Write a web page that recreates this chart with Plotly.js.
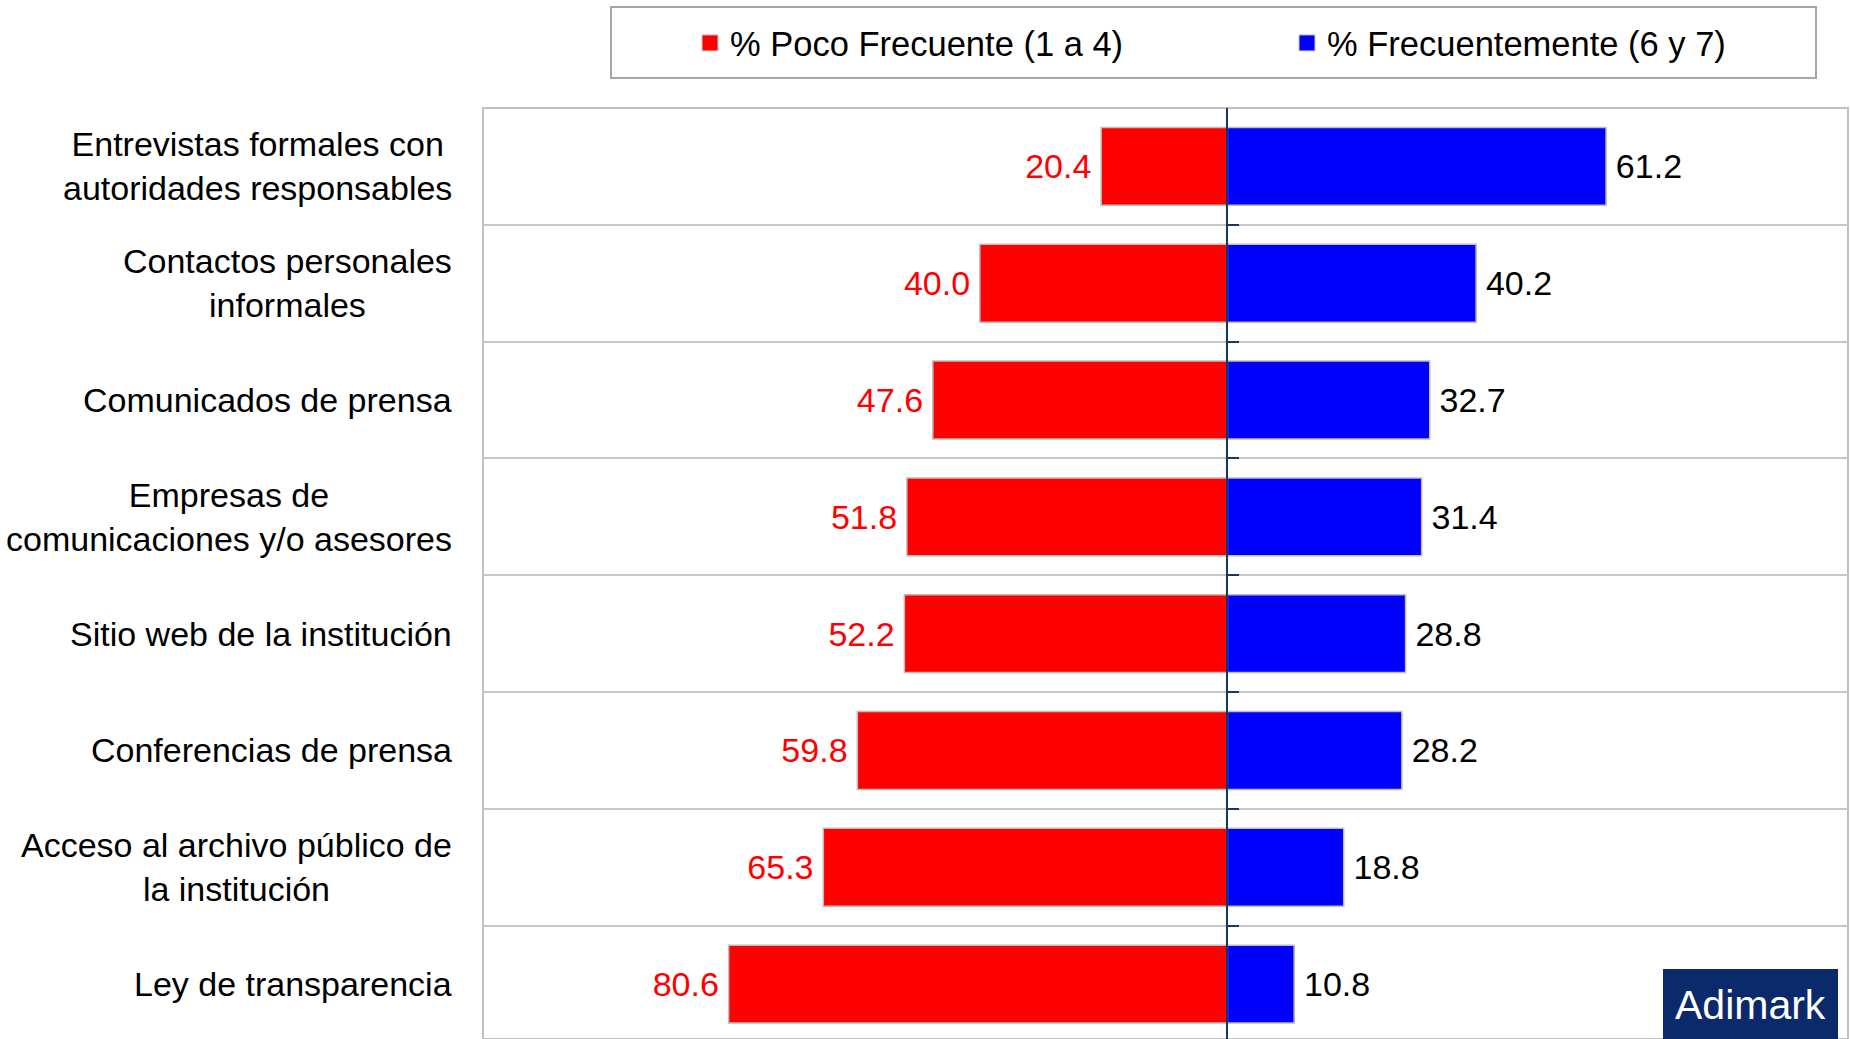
<!DOCTYPE html>
<html>
<head>
<meta charset="utf-8">
<script src="https://cdn.plot.ly/plotly-3.0.1.min.js"></script>
<style>html,body{margin:0;padding:0;background:#fff;}#chart{width:1850px;height:1039px;}</style>
</head>
<body>
<div id="chart"></div>
<script>
const categories = [
  'Entrevistas formales con<br>autoridades responsables',
  'Contactos personales<br>informales',
  'Comunicados de prensa',
  'Empresas de<br>comunicaciones y/o asesores',
  'Sitio web de la institución',
  'Conferencias de prensa',
  'Acceso al archivo público de<br>la institución',
  'Ley de transparencia'
];
const pocoFrecuente = [20.4, 40.0, 47.6, 51.8, 52.2, 59.8, 65.3, 80.6];
const frecuentemente = [61.2, 40.2, 32.7, 31.4, 28.8, 28.2, 18.8, 10.8];
const seriesNames = ['% Poco Frecuente (1 a 4)', '% Frecuentemente (6 y 7)'];
const seriesColors = ['#ff0000', '#0000ff'];

const W = 1850, H = 1039;
const mL = 483, mR = 2, mT = 108, mB = 0;
const pw = W - mL - mR, ph = H - mT - mB;
const xRange = [-120.3, 100.3];
const zeroFrac = (0 - xRange[0]) / (xRange[1] - xRange[0]);
const px2x = p => (p - mL) / pw;
const px2y = p => (H - mB - p) / ph;
const FONT = 'Liberation Sans, Arial, sans-serif';
const GAP = '\u2009';

const traces = [
  {
    type: 'bar', orientation: 'h', name: seriesNames[0], showlegend: false,
    y: categories, x: pocoFrecuente.map(v => -v),
    text: pocoFrecuente.map(v => v.toFixed(1) + GAP),
    textposition: 'outside', constraintext: 'none', cliponaxis: false,
    textfont: {family: FONT, size: 34, color: '#ff0000'},
    marker: {color: seriesColors[0], line: {color: '#bdbdbd', width: 1.5}},
    hoverinfo: 'skip'
  },
  {
    type: 'bar', orientation: 'h', name: seriesNames[1], showlegend: false,
    y: categories, x: frecuentemente,
    text: frecuentemente.map(v => GAP + v.toFixed(1)),
    textposition: 'outside', constraintext: 'none', cliponaxis: false,
    textfont: {family: FONT, size: 34, color: '#000000'},
    marker: {color: seriesColors[1], line: {color: '#bdbdbd', width: 1.5}},
    hoverinfo: 'skip'
  }
].concat(seriesNames.map((n, i) => ({
  type: 'scatter', mode: 'markers', name: n, x: [null], y: [null],
  marker: {symbol: 'square', size: 16, color: seriesColors[i], line: {color: '#c8c8c8', width: 1}},
  hoverinfo: 'skip', showlegend: true
})));

const annotations = categories.map((c, i) => ({
  xref: 'paper', yref: 'y', x: 0, y: i, xanchor: 'right', yanchor: 'middle',
  xshift: -29, text: c, showarrow: false, align: 'center',
  font: {family: FONT, size: 34, color: '#000000'}
}));
annotations.push({
  xref: 'paper', yref: 'paper', x: px2x(1750.5), y: px2y(1005), xanchor: 'center', yanchor: 'middle',
  text: 'Adimark', showarrow: false, font: {family: FONT, size: 41, color: '#ffffff'}
});

const layout = {
  width: W, height: H,
  margin: {l: mL, r: mR, t: mT, b: mB, pad: 0},
  paper_bgcolor: '#ffffff', plot_bgcolor: '#ffffff',
  barmode: 'relative', bargap: 0.333,
  font: {family: FONT, size: 34, color: '#000'},
  showlegend: true,
  legend: {
    orientation: 'h', xref: 'container', yref: 'container',
    x: 690 / W, y: 1 - 43 / H, xanchor: 'left', yanchor: 'middle',
    font: {family: FONT, size: 34.5, color: '#000'},
    entrywidth: 552, entrywidthmode: 'pixels', traceorder: 'normal',
    bgcolor: 'rgba(0,0,0,0)', borderwidth: 0
  },
  xaxis: {
    range: xRange, showgrid: false, zeroline: false, showticklabels: false,
    showline: false, ticks: '', fixedrange: true
  },
  yaxis: {
    type: 'category', categoryorder: 'array', categoryarray: categories,
    range: [7.47, -0.5], anchor: 'free', position: zeroFrac, side: 'left',
    tickson: 'boundaries', ticks: 'inside', ticklen: 11, tickwidth: 2, tickcolor: '#17375e',
    showticklabels: false, showline: true, linecolor: '#17375e', linewidth: 2,
    showgrid: true, gridcolor: '#c6c6c6', gridwidth: 2, zeroline: false, fixedrange: true
  },
  shapes: [
    {type: 'rect', xref: 'paper', yref: 'paper', x0: 0, x1: 1, y0: 0, y1: 1,
     line: {color: '#c0c0c0', width: 2}, fillcolor: 'rgba(0,0,0,0)', layer: 'below'},
    {type: 'rect', xref: 'paper', yref: 'paper', x0: px2x(611), x1: px2x(1816), y0: px2y(78), y1: px2y(7),
     line: {color: '#a6a6a6', width: 2}, fillcolor: 'rgba(0,0,0,0)'},
    {type: 'rect', xref: 'paper', yref: 'paper', x0: px2x(1663), x1: px2x(1838), y0: px2y(1040), y1: px2y(969),
     line: {width: 0}, fillcolor: '#0b2a6c', layer: 'above'}
  ],
  annotations: annotations
};

Plotly.newPlot('chart', traces, layout, {staticPlot: true, displayModeBar: false});
</script>
</body>
</html>
